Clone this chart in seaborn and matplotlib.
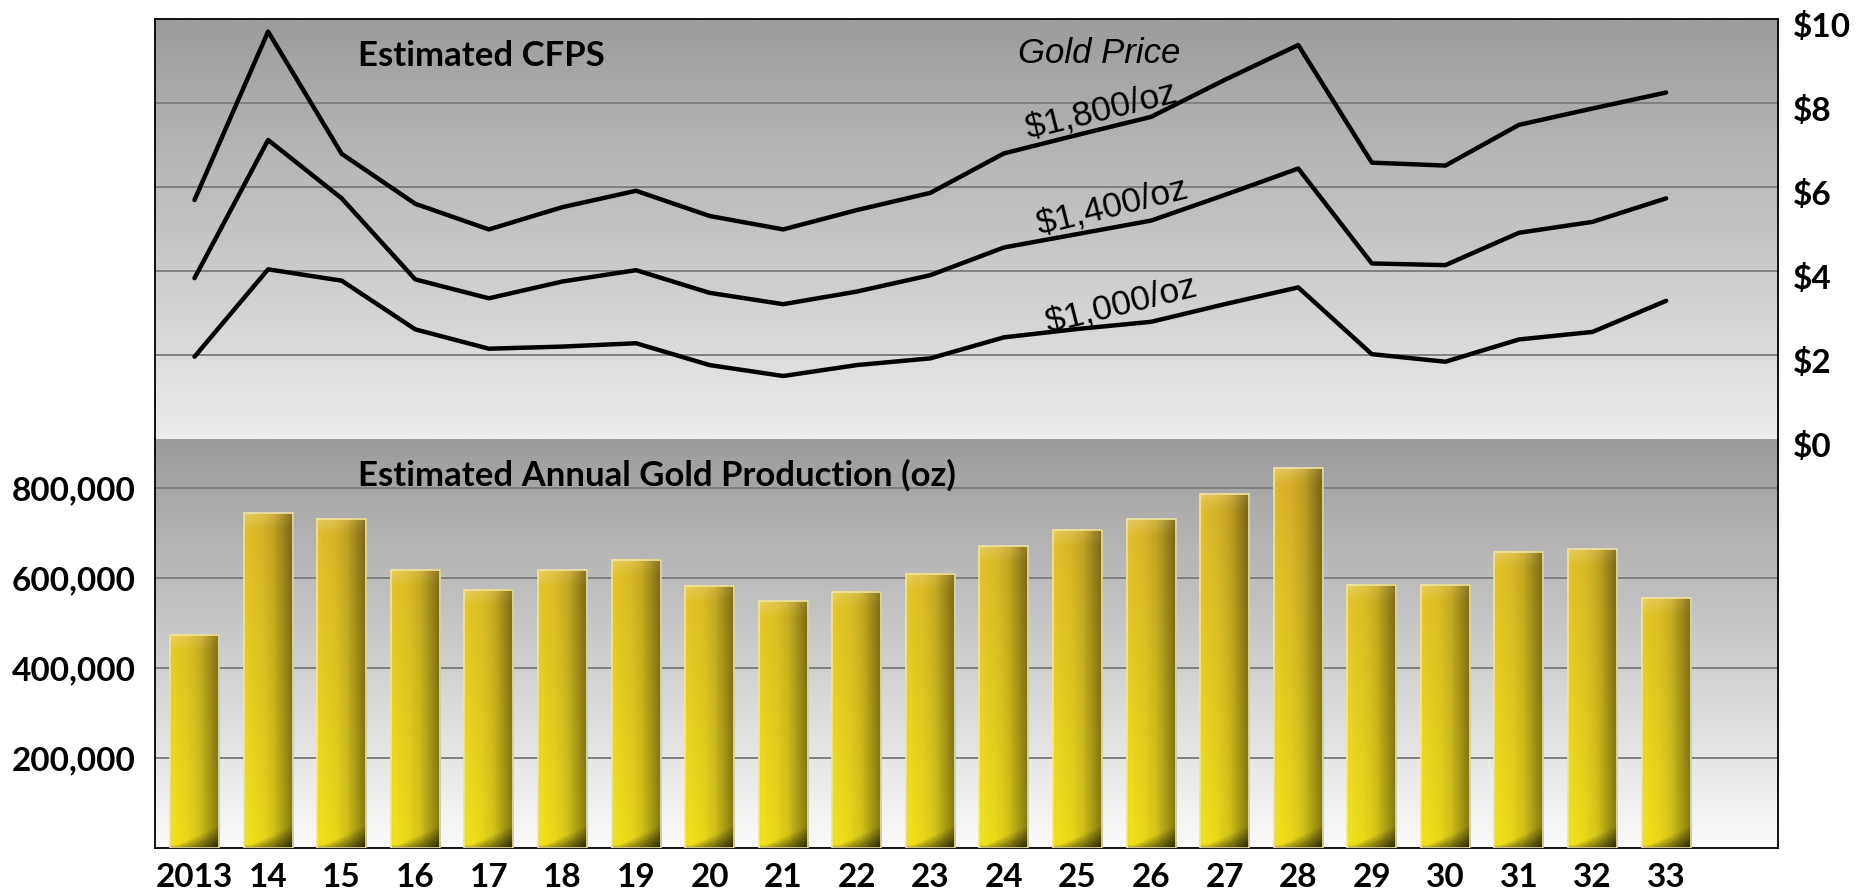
import numpy as np
import pandas as pd
import matplotlib
matplotlib.use("Agg")
import matplotlib.pyplot as plt
import matplotlib.transforms as mtransforms
import seaborn as sns

# ---- data ----
years = ['2013', '14', '15', '16', '17', '18', '19', '20', '21', '22', '23',
         '24', '25', '26', '27', '28', '29', '30', '31', '32', '33']

production = [475000, 745000, 733000, 619000, 575000, 618000, 641000, 584000,
              549000, 570000, 610000, 671000, 708000, 731000, 787000, 845000,
              586000, 586000, 659000, 665000, 556000]

cfps_1800 = [5.69, 9.70, 6.79, 5.60, 4.99, 5.52, 5.91, 5.31, 4.99, 5.45, 5.86,
             6.80, 7.24, 7.67, 8.55, 9.38, 6.58, 6.51, 7.48, 7.87, 8.25]
cfps_1400 = [3.83, 7.12, 5.73, 3.80, 3.35, 3.75, 4.02, 3.48, 3.21, 3.51, 3.90,
             4.56, 4.88, 5.20, 5.81, 6.44, 4.18, 4.14, 4.91, 5.17, 5.73]
cfps_1000 = [1.96, 4.04, 3.77, 2.61, 2.15, 2.20, 2.28, 1.76, 1.50, 1.76, 1.92,
             2.42, 2.62, 2.79, 3.21, 3.61, 2.02, 1.84, 2.37, 2.55, 3.29]

price_labels = ['$1,800/oz', '$1,400/oz', '$1,000/oz']
cfps_ticks = [0, 2, 4, 6, 8, 10]
cfps_ticklabels = ['$0', '$2', '$4', '$6', '$8', '$10']
prod_ticks = [200000, 400000, 600000, 800000]
prod_ticklabels = ['200,000', '400,000', '600,000', '800,000']

sns.set_theme(style="white")
plt.rcParams['font.family'] = ['Lato', 'DejaVu Sans']
plt.rcParams['text.color'] = 'black'
plt.rcParams['xtick.color'] = 'black'
plt.rcParams['ytick.color'] = 'black'
plt.rcParams['axes.labelcolor'] = 'black'

W, H = 1862, 891
fig = plt.figure(figsize=(W / 100, H / 100), dpi=100)
fig.patch.set_facecolor('white')

left, right = 155 / W, 1778 / W
ax_top = fig.add_axes([left, (H - 439) / H, right - left, 420 / H])
ax_bot = fig.add_axes([left, (H - 848) / H, right - left, 409 / H])

XLIM = (-0.537, 21.52)
PROD_MAX = 910000


def gray_gradient(ax, top, bottom):
    c0 = np.array(matplotlib.colors.to_rgb(top))
    c1 = np.array(matplotlib.colors.to_rgb(bottom))
    t = np.linspace(0, 1, 256)[:, None, None]
    img = c0 * (1 - t) + c1 * t
    ax.imshow(img, extent=(0, 1, 0, 1), transform=ax.transAxes,
              aspect='auto', zorder=0, origin='upper')


# ---------- top panel: CFPS lines ----------
gray_gradient(ax_top, '#9d9b9c', '#ececec')

df = pd.DataFrame({
    'pos': list(range(len(years))) * 3,
    'cfps': cfps_1800 + cfps_1400 + cfps_1000,
    'price': np.repeat(price_labels, len(years)),
})
sns.lineplot(data=df, x='pos', y='cfps', hue='price', ax=ax_top,
             palette={p: 'black' for p in price_labels}, linewidth=3.2,
             legend=False, zorder=3)

ax_top.set_xlim(XLIM)
ax_top.set_ylim(0, 10)
ax_top.set_xticks([])
ax_top.set_xlabel('')
ax_top.set_ylabel('')
ax_top.yaxis.tick_right()
ax_top.set_yticks(cfps_ticks)
ax_top.set_yticklabels(cfps_ticklabels, fontsize=24, fontweight='bold')
ax_top.tick_params(axis='y', length=0, pad=11)
ax_top.set_axisbelow(True)
ax_top.grid(axis='y', color='#7f7f7f', linewidth=1.4)
ax_top.grid(axis='x', visible=False)
ticks = ax_top.yaxis.get_major_ticks()
ticks[0].gridline.set_visible(False)
ticks[-1].gridline.set_visible(False)
# right-hand labels sit a little below their gridlines in the original
shift = mtransforms.ScaledTranslation(0, -0.055, fig.dpi_scale_trans)
for t in ticks:
    t.label2.set_transform(t.label2.get_transform() + shift)

for side in ['left', 'top', 'right']:
    ax_top.spines[side].set_color('black')
    ax_top.spines[side].set_linewidth(1.3)
ax_top.spines['bottom'].set_visible(False)

ax_top.text(2.22, 8.88, 'Estimated CFPS', fontsize=25, fontweight='bold',
            ha='left', va='baseline')
ax_top.text(11.19, 8.95, 'Gold Price', fontsize=25, style='italic',
            family=['Liberation Sans', 'DejaVu Sans'], ha='left', va='baseline')
label_pos = [(12.33, 7.80), (12.48, 5.50), (12.60, 3.17)]
for lab, (lx, ly) in zip(price_labels, label_pos):
    ax_top.text(lx, ly, lab, fontsize=25.5, rotation=14, rotation_mode='anchor',
                family=['Liberation Sans', 'DejaVu Sans'],
                ha='center', va='center')

# ---------- bottom panel: production bars ----------
gray_gradient(ax_bot, '#9d9b9c', '#fbfbfb')

sns.barplot(x=years, y=production, ax=ax_bot, color='#d4b818', width=0.666,
            order=years, zorder=2)

lemon = np.array([0.91, 0.85, 0.10])
gold = np.array([0.83, 0.67, 0.16])
cap = np.array([0.92, 0.85, 0.58])
px_per_val = 409 / PROD_MAX

for p in ax_bot.patches:
    x0, w, h = p.get_x(), p.get_width(), p.get_height()
    ny, nx = 300, 80
    s = np.linspace(0, 1, nx)[None, :]
    yv = np.linspace(0, h, ny)[:, None]
    t = np.clip(yv / 850000, 0, 1)
    base = lemon * (1 - t[..., None]) + gold * t[..., None]
    f = np.interp(s, [0, 0.08, 0.35, 0.6, 0.85, 1.0],
                  [0.97, 1.04, 1.0, 0.9, 0.68, 0.55])
    img = base * f[..., None]
    # light left edge
    wl = np.clip((0.1 - s) / 0.1, 0, 1) * 0.18
    img = img * (1 - wl[..., None]) + wl[..., None]
    # bevel highlight at the top
    top_px = (h - yv) * px_per_val
    wc = np.clip(1 - top_px / 16, 0, 1) * 0.55 * (1 - 0.8 * s)
    img = img * (1 - wc[..., None]) + cap * wc[..., None]
    # curved floor shadow, heavier on the right
    bot_px = yv * px_per_val
    reach = 3 + 20 * np.clip((s - 0.15) / 0.85, 0, 1)
    sh = np.clip(1 - bot_px / reach, 0, 1) * (0.25 + 0.6 * s)
    img = img * (1 - 0.8 * sh[..., None])
    img = np.clip(img, 0, 1)
    ax_bot.imshow(img, extent=(x0, x0 + w, 0, h), origin='lower',
                  aspect='auto', zorder=2.5, interpolation='bilinear')
    p.set_facecolor('none')
    p.set_edgecolor('#efe4a6')
    p.set_linewidth(1.2)
    p.set_zorder(2.6)

ax_bot.set_xlim(XLIM)
ax_bot.set_ylim(0, PROD_MAX)
ax_bot.set_xlabel('')
ax_bot.set_ylabel('')
ax_bot.set_yticks(prod_ticks)
ax_bot.set_yticklabels(prod_ticklabels, fontsize=24, fontweight='bold')
ax_bot.set_xticks(range(len(years)))
ax_bot.set_xticklabels(years, fontsize=24, fontweight='bold')
ax_bot.tick_params(axis='y', length=0, pad=14)
ax_bot.tick_params(axis='x', length=0, pad=11)
ax_bot.set_axisbelow(True)
ax_bot.grid(axis='y', color='#7f7f7f', linewidth=1.4, zorder=1)
ax_bot.grid(axis='x', visible=False)

for side in ['left', 'bottom', 'right']:
    ax_bot.spines[side].set_color('black')
    ax_bot.spines[side].set_linewidth(1.3)
ax_bot.spines['top'].set_visible(False)

ax_bot.text(2.22, 807000, 'Estimated Annual Gold Production (oz)', fontsize=25,
            fontweight='bold', ha='left', va='baseline')

fig.savefig('out.png', dpi=100)
